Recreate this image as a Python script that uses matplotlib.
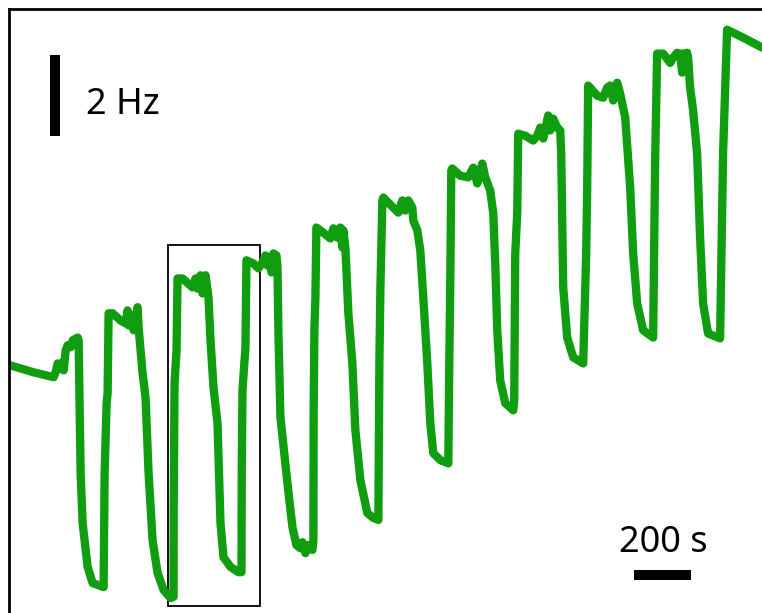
import matplotlib.pyplot as plt
from matplotlib.patches import Rectangle

# firing-rate trace (time in s, rate in Hz)
time_s = [
    7.0, 87.7, 157.9, 164.9, 171.9, 182.5, 189.5, 193.0, 200.0, 207.0, 217.6, 224.6, 242.1, 245.6,
    249.1, 252.6, 259.7, 277.2, 294.8, 333.4,
    336.9, 343.9, 347.4, 350.9, 364.9, 393.0, 410.5, 417.6, 421.1, 435.1, 438.6, 452.7, 456.2,
    470.2, 480.7, 491.3, 505.3, 522.8, 543.9, 568.5, 579.0,
    579.5, 582.5, 589.5, 593.0, 610.6, 645.7, 656.2, 663.2, 673.7, 680.7, 691.3, 698.3, 701.8,
    708.8, 719.3, 733.4, 743.9, 754.4, 779.0, 807.1, 817.6,
    818.5, 821.1, 831.6, 835.1, 859.7, 877.2, 891.3, 901.8, 908.8, 915.8, 922.9, 929.9, 940.4, 943.9,
    947.4, 954.4, 979.0, 996.6, 1010.6, 1024.6, 1031.6, 1042.2, 1052.7, 1066.7,
    1070.2, 1071.0, 1073.7, 1077.2, 1080.7, 1094.8, 1129.8, 1140.4, 1154.4, 1165.0, 1172.0, 1175.5,
    1182.5, 1193.0, 1207.1, 1217.6, 1235.2, 1259.8, 1280.8, 1298.4,
    1301.9, 1305.4, 1312.4, 1315.9, 1350.9, 1368.5, 1382.6, 1393.1, 1403.6, 1417.7, 1421.2, 1435.2, 1445.7,
    1456.2, 1470.3, 1480.8, 1491.3, 1515.9, 1544.0,
    1547.5, 1551.0, 1554.5, 1558.0, 1586.1, 1614.1, 1631.7, 1645.7, 1663.3, 1673.8, 1691.4, 1701.9,
    1708.9, 1715.9, 1726.4, 1744.0, 1772.1,
    1775.6, 1779.1, 1786.1, 1789.6, 1814.2, 1842.3, 1856.3, 1866.9, 1877.4, 1894.9, 1901.9, 1912.5, 1926.5, 1937.1,
    1940.6, 1944.1, 1947.6, 1961.6, 1982.7, 2017.8,
    2028.3, 2031.8, 2035.3, 2066.9, 2088.0, 2102.0, 2112.6, 2123.1, 2137.2, 2147.7, 2165.3,
    2182.8, 2193.3, 2207.4, 2228.4, 2263.5,
    2267.0, 2270.5, 2277.5, 2298.6, 2323.2, 2333.7, 2347.7, 2358.3, 2365.3, 2368.8, 2382.8, 2386.3,
    2393.3, 2403.9, 2417.9, 2428.4, 2439.0, 2456.5, 2498.6,
    2509.1, 2523.2, 2586.3, 2645.8,
]
freq_hz = [
    6.12, 5.95, 5.83, 5.95, 6.17, 6.05, 6.20, 6.00, 6.49, 6.62, 6.57, 6.74, 6.81, 6.74,
    5.09, 3.46, 2.22, 1.14, 0.74, 0.64,
    3.46, 5.19, 5.43, 7.41, 7.41, 7.23, 7.16, 7.48, 7.11, 7.36, 6.99, 7.56, 7.06,
    5.93, 5.33, 3.46, 1.80, 0.99, 0.57, 0.37, 0.40,
    2.62, 5.68, 6.49, 8.27, 8.27, 8.05, 8.27, 8.02, 8.35, 7.90, 8.35, 7.98, 7.80,
    6.74, 5.58, 4.69, 2.22, 1.38, 1.14, 1.01, 1.01,
    3.46, 5.51, 6.57, 8.72, 8.64, 8.52, 8.67, 8.84, 8.59, 8.79, 8.42, 8.89, 8.84, 8.59,
    6.91, 4.84, 3.21, 2.12, 1.68, 1.60, 1.75, 1.48, 1.68, 1.56,
    1.80, 4.94, 6.99, 7.80, 9.53, 9.46, 9.26, 9.51, 9.28, 9.53, 9.04, 9.46,
    9.04, 7.41, 6.17, 4.52, 3.28, 2.47, 2.35, 2.30,
    6.17, 7.98, 10.20, 10.27, 10.02, 9.90, 10.20, 9.95, 10.20, 10.02, 9.70, 9.46, 8.96,
    7.80, 6.17, 4.69, 3.95, 3.78, 3.70,
    6.17, 8.22, 10.94, 10.99, 10.81, 10.77, 11.01, 10.62, 11.11, 10.77, 10.44, 9.88,
    8.64, 6.99, 5.75, 5.19, 5.01,
    5.26, 8.89, 9.88, 11.85, 11.80, 11.68, 11.80, 12.00, 11.73, 12.30, 11.93, 12.22, 12.00, 11.93,
    11.36, 9.70, 8.05, 6.81, 6.32, 6.17,
    8.89, 10.52, 13.04, 12.79, 12.74, 12.99, 13.04, 12.67, 13.11, 12.84, 12.25,
    10.52, 8.89, 7.65, 6.99, 6.81,
    8.89, 11.19, 13.83, 13.83, 13.60, 13.73, 13.85, 13.83, 13.36, 13.83, 13.85, 13.73,
    12.99, 12.42, 11.36, 9.28, 7.65, 6.91, 6.79,
    11.36, 14.42, 14.20, 13.98,
]

# highlighted window
box_t = (557.9, 884.2)
box_f = (0.17, 9.09)

# scale bars
bar_hz = 2
bar_s = 200

t_max = 2645.8
f_max = 14.94

fig = plt.figure(figsize=(7.62, 6.13), dpi=100)
ax = fig.add_axes([8.7 / 762, 0, 1 - 8.7 / 762, 1 - 8.7 / 613])
ax.set_xlim(0, t_max)
ax.set_ylim(0, f_max)

ax.plot(time_s, freq_hz, color='#109e10', lw=6.0,
        solid_joinstyle='round', solid_capstyle='round')

ax.add_patch(Rectangle((box_t[0], box_f[0]), box_t[1] - box_t[0], box_f[1] - box_f[0],
                       fill=False, edgecolor='black', lw=1.3))

# vertical scale bar
ax.plot([161.4, 161.4], [11.80, 11.80 + bar_hz], color='black', lw=7.2, solid_capstyle='butt')
ax.text(270, 12.55, f"{bar_hz} Hz", fontsize=26, family='Noto Sans', va='center', ha='left')

# horizontal scale bar
ax.plot([2196.6, 2196.6 + bar_s], [0.94, 0.94], color='black', lw=7.2, solid_capstyle='butt')
ax.text(2298, 1.72, f"{bar_s} s", fontsize=26, family='Noto Sans', va='center', ha='center')

ax.set_xticks([])
ax.set_yticks([])
ax.spines['right'].set_visible(False)
ax.spines['bottom'].set_visible(False)
ax.spines['left'].set_linewidth(2.0)
ax.spines['top'].set_linewidth(2.0)

fig.savefig('out.png', dpi=100)
